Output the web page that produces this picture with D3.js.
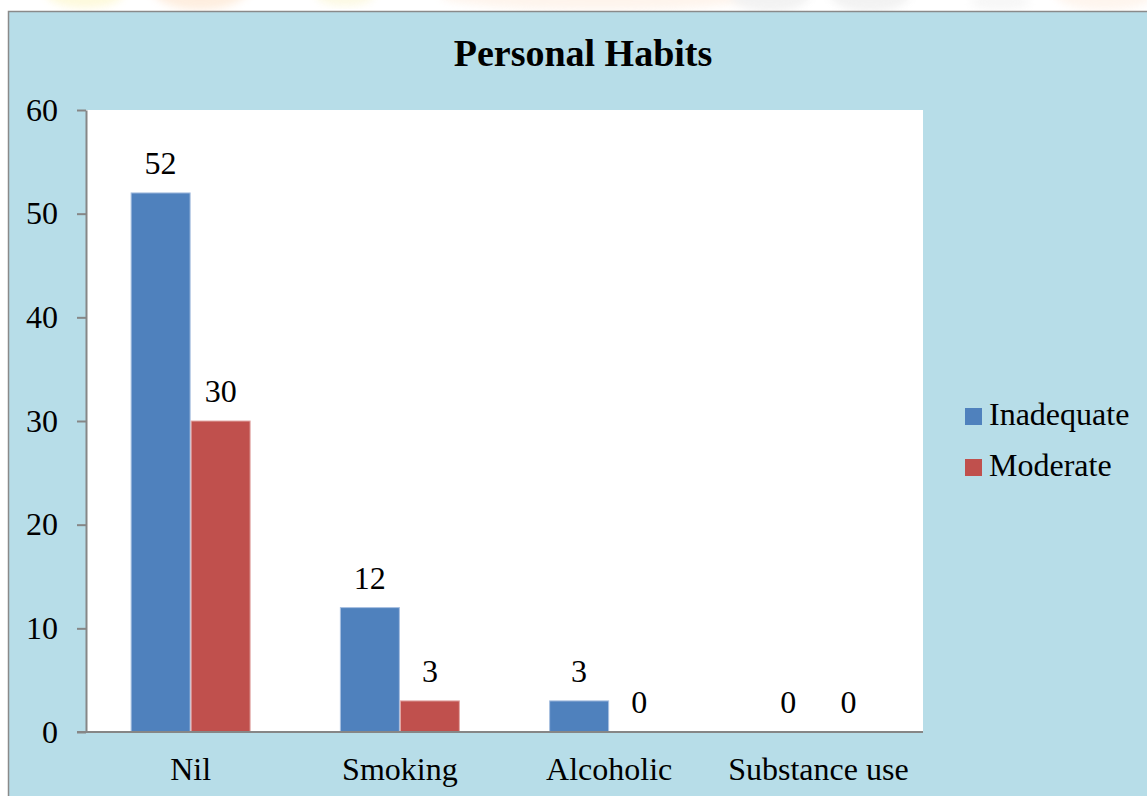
<!DOCTYPE html>
<html>
<head>
<meta charset="utf-8">
<script src="https://cdn.jsdelivr.net/npm/d3@7"></script>
<style>
  html, body { margin: 0; padding: 0; background: #ffffff; }
  svg { display: block; }
  text { font-family: "Liberation Serif", "Times New Roman", serif; fill: #000; }
</style>
</head>
<body>
<svg id="chart" width="1147" height="796"></svg>
<script>
// Chart data
const categories = ["Nil", "Smoking", "Alcoholic", "Substance use"];
const seriesNames = ["Inadequate", "Moderate"];
const inadequate = [52, 12, 3, 0];
const moderate = [30, 3, 0, 0];
const yTicks = [0, 10, 20, 30, 40, 50, 60];
const titleText = "Personal Habits";

const seriesValues = [inadequate, moderate];
const colors = ["#4f81bd", "#c0504d"];
const edgeColors = ["#a7bfe0", "#e2a8a6"];

const W = 1147, H = 796;
const plot = { left: 86, right: 923, top: 110, bottom: 732 };
const fontSize = 32;
const serif = "Liberation Serif, Times New Roman, serif";

const svg = d3.select("#chart");

// Faint page decoration above the chart frame
const defs = svg.append("defs");
defs.append("filter").attr("id", "soft")
  .append("feGaussianBlur").attr("stdDeviation", 4);
defs.append("clipPath").attr("id", "topStrip")
  .append("rect").attr("x", 0).attr("y", 0).attr("width", W).attr("height", 12);
const deco = svg.append("g").attr("clip-path", "url(#topStrip)").attr("opacity", 0.45);
const blobs = [
  { cx: 85, cy: -8, rx: 40, ry: 16, c: "#fbf3b0" },
  { cx: 200, cy: -14, rx: 50, ry: 24, c: "#fdd9b8" },
  { cx: 345, cy: -6, rx: 30, ry: 12, c: "#f8f2c0" },
  { cx: 600, cy: -4, rx: 160, ry: 14, c: "#fde7d6" },
  { cx: 770, cy: -6, rx: 40, ry: 18, c: "#e3e3e3" },
  { cx: 870, cy: -6, rx: 40, ry: 18, c: "#e3e3e3" },
  { cx: 1000, cy: 2, rx: 30, ry: 8, c: "#ececec" },
  { cx: 1105, cy: -6, rx: 50, ry: 16, c: "#fde9d9" }
];
deco.selectAll("ellipse").data(blobs).join("ellipse")
  .attr("cx", d => d.cx).attr("cy", d => d.cy)
  .attr("rx", d => d.rx).attr("ry", d => d.ry)
  .attr("fill", d => d.c).attr("filter", "url(#soft)");

// Chart frame
svg.append("rect")
  .attr("x", 8.5).attr("y", 11.5)
  .attr("width", W + 10).attr("height", H + 10)
  .attr("fill", "#b7dde8")
  .attr("stroke", "#8a8a8a").attr("stroke-width", 1.5);

// Plot area
svg.append("rect")
  .attr("x", plot.left).attr("y", plot.top)
  .attr("width", plot.right - plot.left).attr("height", plot.bottom - plot.top)
  .attr("fill", "#ffffff");

// Scales
const x0 = d3.scaleBand().domain(categories).range([plot.left, plot.right]).padding(0);
const groupWidth = x0.bandwidth() * 0.5735;
const x1 = d3.scaleBand().domain(seriesNames)
  .range([(x0.bandwidth() - groupWidth) / 2, (x0.bandwidth() + groupWidth) / 2]).padding(0);
const y = d3.scaleLinear().domain([0, 60]).range([plot.bottom, plot.top]);

// Bars
const rows = categories.map((c, i) => ({
  cat: c,
  vals: seriesNames.map((s, j) => ({ s, j, v: seriesValues[j][i] }))
}));
const groups = svg.append("g").selectAll("g").data(rows).join("g")
  .attr("transform", d => `translate(${x0(d.cat)},0)`);
groups.selectAll("rect").data(d => d.vals.filter(e => e.v > 0)).join("rect")
  .attr("x", d => x1(d.s) + 0.5)
  .attr("y", d => y(d.v))
  .attr("width", x1.bandwidth() - 1)
  .attr("height", d => y(0) - y(d.v))
  .attr("fill", d => colors[d.j])
  .attr("stroke", d => edgeColors[d.j])
  .attr("stroke-width", 1);

// Value labels
groups.selectAll("text").data(d => d.vals).join("text")
  .attr("x", d => x1(d.s) + x1.bandwidth() / 2)
  .attr("y", d => y(d.v) - 19)
  .attr("text-anchor", "middle")
  .style("font-size", fontSize + "px")
  .text(d => d.v);

// Y axis
const yAxis = svg.append("g")
  .attr("transform", `translate(${plot.left},0)`)
  .call(d3.axisLeft(y).tickValues(yTicks).tickSize(9).tickPadding(19).tickSizeOuter(0));
yAxis.select(".domain").attr("stroke", "#868686").attr("stroke-width", 2);
yAxis.selectAll(".tick line").attr("stroke", "#868686").attr("stroke-width", 2);
yAxis.selectAll(".tick text")
  .style("font-size", fontSize + "px")
  .style("font-family", serif)
  .attr("fill", "#000");

// X axis
const xAxis = svg.append("g")
  .attr("transform", `translate(0,${plot.bottom})`)
  .call(d3.axisBottom(x0).tickSize(0).tickPadding(0).tickSizeOuter(0));
xAxis.select(".domain").attr("stroke", "#868686").attr("stroke-width", 2)
  .attr("d", `M${plot.left - 9},0H${plot.right}`);
xAxis.selectAll(".tick text")
  .attr("dy", null)
  .attr("y", 48)
  .style("font-size", fontSize + "px")
  .style("font-family", serif)
  .attr("fill", "#000");

// Title
svg.append("text")
  .attr("x", 583).attr("y", 66)
  .attr("text-anchor", "middle")
  .style("font-size", "38px")
  .style("font-weight", "bold")
  .text(titleText);

// Legend
const legend = svg.append("g").attr("transform", "translate(965,408)");
const items = legend.selectAll("g").data(seriesNames).join("g")
  .attr("transform", (d, i) => `translate(0,${i * 51})`);
items.append("rect")
  .attr("width", 17).attr("height", 17)
  .attr("fill", (d, i) => colors[i]);
items.append("text")
  .attr("x", 24).attr("y", 17)
  .style("font-size", fontSize + "px")
  .text(d => d);
</script>
</body>
</html>
